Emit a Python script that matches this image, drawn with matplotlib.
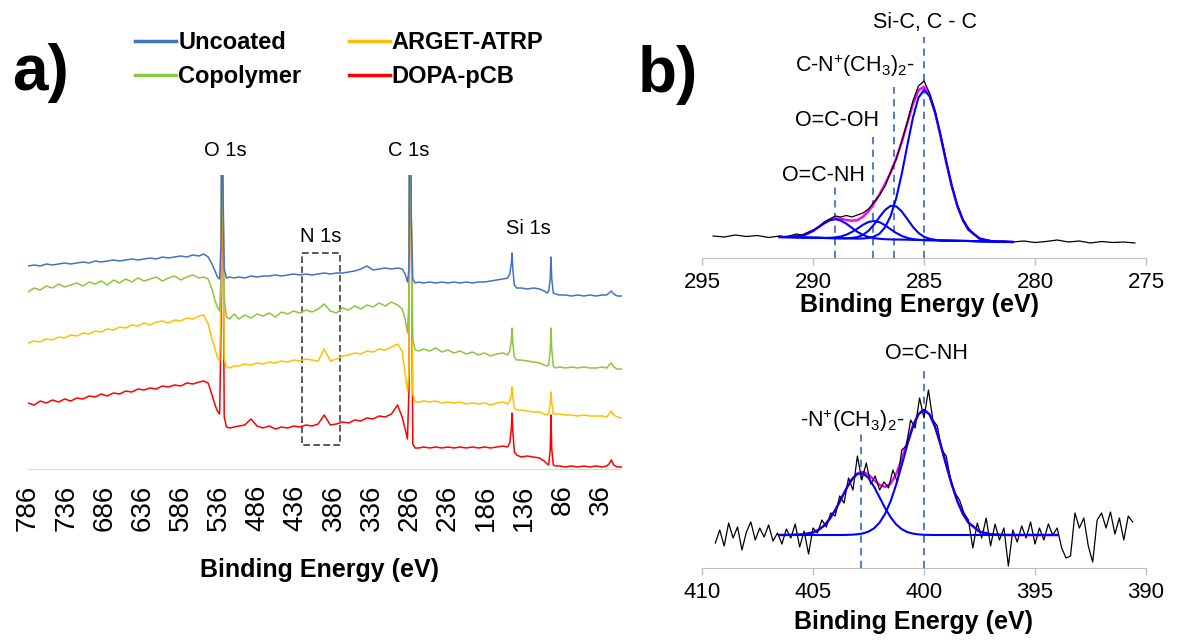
import numpy as np
import matplotlib
matplotlib.use("Agg")
import matplotlib.pyplot as plt
from matplotlib.patches import Rectangle

plt.rcParams['font.family'] = ['Liberation Sans', 'DejaVu Sans']
plt.rcParams['mathtext.fontset'] = 'custom'
plt.rcParams['mathtext.rm'] = 'Liberation Sans'
plt.rcParams['mathtext.it'] = 'Liberation Sans:italic'
plt.rcParams['mathtext.bf'] = 'Liberation Sans:bold'

# ---------------- a) survey spectra (intensity in arbitrary units) ----------------
survey_ev = [786, 778, 770, 762, 754, 746, 738, 730, 722, 714, 706, 698, 690, 682, 674,
             666, 658, 650, 642, 634, 626, 618, 610, 602, 594, 586, 578, 570, 562,
             556, 550, 545, 541, 538, 535, 533, 532, 531, 529, 526, 522, 516,
             510, 502, 494, 486, 478, 470, 462, 454, 446, 438, 430, 422, 414, 406,
             398, 390, 382, 374, 366, 358, 350, 342, 334, 326, 318, 310, 302,
             296, 292, 289, 287, 286, 285, 284, 282, 279, 274,
             268, 260, 252, 244, 236, 228, 220, 212, 204, 196, 188, 180, 172, 164,
             158, 155, 153, 152, 151, 149, 146,
             140, 132, 124, 116, 110,
             106, 104, 102, 101, 100, 98, 95,
             90, 82, 74, 66, 58, 50, 42, 34, 28,
             25, 22, 19,
             14, 8]

uncoated = [203, 204, 203, 205, 204, 205, 206, 205, 206, 207, 206, 208, 207, 208, 209,
            208, 209, 210, 209, 210, 211, 210, 212, 211, 212, 213, 212, 214, 213,
            215, 212, 205, 198, 192, 190, 230, 400, 300, 200, 191, 192, 191,
            192, 191, 193, 192, 193, 193, 194, 193, 194, 195, 194, 195, 194, 195,
            196, 195, 196, 196, 197, 198, 200, 203, 199, 200, 201, 200, 201,
            200, 195, 187, 200, 400, 400, 250, 190, 186, 187,
            186, 187, 186, 187, 186, 187, 186, 187, 186, 187, 187, 188, 189, 190,
            191, 195, 205, 216, 200, 184, 181,
            181, 180, 181, 180, 178,
            176, 178, 190, 212, 190, 176, 175,
            174, 174, 173, 174, 173, 174, 173, 174, 174,
            176, 178, 175,
            173, 173]

copolymer = [177, 181, 179, 183, 181, 185, 182, 184, 186, 183, 187, 185, 188, 184, 189,
             186, 190, 187, 191, 188, 190, 192, 188, 191, 193, 189, 192, 194, 191,
             192, 190, 180, 168, 162, 158, 200, 400, 300, 170, 152, 150, 155,
             150, 154, 151, 155, 153, 156, 152, 157, 155, 158, 156, 159, 157, 160,
             165, 158, 156, 161, 159, 163, 160, 164, 162, 166, 163, 167, 164,
             160, 150, 136, 170, 400, 400, 250, 130, 119, 118,
             120, 118, 121, 117, 119, 116, 118, 115, 117, 114, 116, 113, 115, 116,
             114, 118, 128, 141, 125, 112, 109,
             109, 108, 107, 106, 104,
             103, 104, 118, 141, 120, 103, 101,
             102, 101, 102, 101, 102, 101, 101, 102, 101,
             104, 106, 102,
             100, 100]

arget_atrp = [126, 128, 127, 130, 129, 132, 131, 134, 133, 136, 135, 138, 137, 140, 139,
              142, 141, 144, 143, 146, 144, 147, 148, 146, 149, 148, 151, 150, 153,
              154, 145, 130, 120, 112, 108, 180, 400, 300, 110, 102, 101, 103,
              103, 105, 104, 106, 105, 107, 106, 108, 107, 109, 108, 110, 109, 108,
              120, 108, 110, 113, 114, 116, 115, 118, 117, 120, 119, 122, 125,
              118, 95, 78, 100, 400, 400, 250, 75, 67, 67,
              68, 67, 68, 66, 67, 66, 67, 65, 66, 65, 66, 64, 66, 67,
              65, 68, 74, 82, 72, 61, 59,
              59, 58, 57, 57, 55,
              54, 56, 66, 77, 66, 55, 55,
              55, 54, 54, 53, 54, 53, 53, 53, 52,
              55, 58, 54,
              52, 51]

dopa_pcb = [66, 64, 68, 66, 69, 67, 70, 68, 71, 70, 73, 72, 75, 73, 76,
            75, 78, 77, 80, 79, 81, 80, 83, 82, 84, 83, 86, 85, 87,
            88, 86, 74, 64, 58, 55, 150, 400, 300, 52, 42, 41, 42,
            43, 44, 50, 43, 41, 43, 40, 42, 41, 43, 42, 44, 43, 45,
            54, 44, 45, 47, 46, 49, 48, 51, 50, 53, 52, 55, 64,
            52, 40, 30, 80, 400, 400, 250, 25, 21, 21,
            22, 21, 22, 21, 22, 21, 22, 21, 22, 21, 22, 21, 22, 23,
            22, 26, 40, 56, 38, 17, 14,
            12, 13, 12, 11, 8,
            5, 4, 20, 54, 20, 4, 3,
            3, 2, 3, 2, 3, 2, 3, 2, 3,
            5, 9, 4,
            2, 2]

survey_names = ['Uncoated', 'Copolymer', 'ARGET-ATRP', 'DOPA-pCB']
survey_colors = ['#4472C4', '#8DC63F', '#FFC000', '#FF0000']
survey_ticks = [786, 736, 686, 636, 586, 536, 486, 436, 386, 336, 286, 236, 186, 136, 86, 36]

peak_labels = ['O 1s', 'C 1s', 'N 1s', 'Si 1s']
peak_label_ev = [527, 287, 402.5, 131]
peak_label_h = [319, 319, 233, 241]
n1s_box = (378, 427, 24, 216)   # eV from, eV to, low, high

# ---------------- b) C 1s high resolution ----------------
c1s_raw_ev = [294.5, 294, 293.5, 293, 292.5, 292, 291.5,
              291.25, 291, 290.75, 290.5, 290.25, 290, 289.75, 289.5, 289.25, 289,
              288.75, 288.5, 288.25, 288, 287.75, 287.5, 287.25, 287, 286.75, 286.5,
              286.25, 286, 285.75, 285.5, 285.25, 285, 284.75, 284.5, 284.25, 284,
              283.75, 283.5, 283.25, 283, 282.75, 282.5, 282.25, 282, 281.75, 281.5,
              281, 280.5, 280, 279.5, 279, 278.5, 278, 277.5, 277, 276.5, 276, 275.5]
c1s_raw = [22, 21, 23, 21.5, 22.5, 20.5, 22,
           21, 22.5, 24, 23, 25.5, 28, 31, 36, 39, 42,
           41, 42.5, 41, 43, 45, 49, 56, 63, 72, 86,
           99, 117, 136, 157, 172, 177, 165, 147, 123, 97,
           73, 53, 39, 30, 24, 20, 18, 17.5, 16, 17,
           16, 17, 15.5, 16.5, 18, 16, 17, 15, 16.5, 15.5, 16, 15]

c1s_fit_ev = [291.5, 291, 290.5, 290.25, 290, 289.75, 289.5, 289.25, 289, 288.75,
              288.5, 288.25, 288, 287.75, 287.5, 287.25, 287, 286.75, 286.5, 286.25,
              286, 285.75, 285.5, 285.25, 285, 284.75, 284.5, 284.25, 284, 283.75,
              283.5, 283.25, 283, 282.5, 282, 281.5, 281]
c1s_amide = [21.0, 21.1, 22.4, 24.3, 27.1, 30.9, 34.7, 37.7, 38.8, 37.5,
             34.3, 30.2, 26.1, 23.1, 21.0, 19.8, 19.2, 18.8, 18.6, 18.5,
             18.4, 18.3, 18.1, 18.0, 17.9, 17.8, 17.7, 17.5, 17.4, 17.3,
             17.2, 17.1, 17.0, 16.7, 16.5, 16.2, 16.0]
c1s_acid = [21.0, 20.8, 20.5, 20.4, 20.3, 20.2, 20.1, 20.2, 20.6, 21.5,
            23.3, 26.0, 29.4, 33.2, 36.0, 37.0, 35.8, 32.8, 28.7, 25.0,
            22.1, 20.1, 18.9, 18.3, 17.9, 17.8, 17.7, 17.5, 17.4, 17.3,
            17.2, 17.1, 17.0, 16.7, 16.5, 16.2, 16.0]
c1s_ammonium = [21.0, 20.8, 20.5, 20.4, 20.3, 20.2, 20.0, 19.9, 19.8, 19.7,
                19.7, 20.1, 20.9, 23.1, 27.2, 33.5, 41.1, 48.1, 52.2, 51.6,
                46.5, 38.9, 31.1, 25.1, 21.2, 19.2, 18.2, 17.5, 17.4, 17.3,
                17.2, 17.1, 17.0, 16.7, 16.5, 16.2, 16.0]
c1s_cc = [21.0, 20.8, 20.5, 20.4, 20.3, 20.2, 20.0, 19.9, 19.8, 19.7,
          19.6, 19.5, 19.4, 19.5, 20.0, 21.4, 24.4, 30.8, 42.1, 60.0,
          84.3, 112.8, 140.1, 160.4, 167.9, 161.8, 145.3, 121.8, 96.0, 72.0,
          52.3, 37.9, 28.4, 19.4, 16.9, 16.2, 16.0]
c1s_envelope = [21.0, 21.1, 22.4, 24.3, 27.1, 30.9, 34.8, 38.0, 39.6, 39.3,
                38.1, 37.3, 37.9, 41.3, 46.9, 54.7, 63.8, 74.3, 85.8, 99.6,
                116.1, 135.2, 153.9, 167.8, 171.2, 163.2, 145.8, 122.0, 96.0, 72.0,
                52.3, 37.9, 28.4, 19.4, 16.9, 16.2, 16.0]

c1s_line_ev = [289.0, 287.3, 286.35, 285.0]
c1s_line_top = [73, 125, 171, 221]
c1s_labels = ['O=C-NH', 'O=C-OH', r'C-N$^\mathregular{+}$(CH$_\mathregular{3}$)$_\mathregular{2}$-', 'Si-C, C - C']
c1s_label_ev = [289.53, 288.9, 288.1, 284.95]
c1s_label_h = [77, 132, 186, 230]
c1s_ticks = [295, 290, 285, 280, 275]

# ---------------- b) N 1s high resolution ----------------
n1s_raw_ev = [409.4, 409.2, 409.0, 408.8, 408.6, 408.4, 408.2, 408.0, 407.8, 407.6,
              407.4, 407.2, 407.0, 406.8, 406.6, 406.4, 406.2, 406.0, 405.8, 405.6,
              405.4, 405.2, 405.0, 404.8, 404.6, 404.4, 404.2, 404.0, 403.8, 403.6,
              403.4, 403.2, 403.0, 402.8, 402.6, 402.4, 402.2, 402.0, 401.8, 401.6,
              401.4, 401.2, 401.0, 400.8, 400.6, 400.4, 400.2, 400.0, 399.8, 399.6,
              399.4, 399.2, 399.0, 398.8, 398.6, 398.4, 398.2, 398.0, 397.8, 397.6,
              397.4, 397.2, 397.0, 396.8, 396.6, 396.4, 396.2, 396.0, 395.8, 395.6,
              395.4, 395.2, 395.0, 394.8, 394.6, 394.4, 394.2, 394.0, 393.8, 393.6,
              393.4, 393.2, 393.0, 392.8, 392.6, 392.4, 392.2, 392.0, 391.8, 391.6,
              391.4, 391.2, 391.0, 390.8, 390.6]
n1s_raw = [25, 38, 22, 45, 30, 41, 18, 36, 46, 28,
           40, 31, 43, 27, 35, 24, 39, 30, 44, 21,
           37, 14, 40, 35, 48, 41, 55, 52, 72, 65,
           90, 78, 112, 88, 105, 84, 92, 78, 86, 80,
           98, 86, 118, 122, 148, 140, 170, 150, 178, 148,
           142, 118, 112, 88, 75, 68, 55, 48, 20, 45,
           30, 50, 22, 44, 28, 40, 2, 38, 26, 42,
           30, 46, 24, 40, 28, 44, 33, 40, 20, 10,
           12, 55, 40, 50, 22, 6, 48, 55, 40, 56,
           34, 50, 28, 52, 46]

n1s_fit_ev = [406.5, 406, 405.5, 405, 404.75, 404.5, 404.25, 404, 403.75, 403.5,
              403.25, 403, 402.75, 402.5, 402.25, 402, 401.75, 401.5, 401.25, 401,
              400.75, 400.5, 400.25, 400, 399.75, 399.5, 399.25, 399, 398.75, 398.5,
              398.25, 398, 397.5, 397, 396.5, 396, 395.5, 395, 394.5, 394]
n1s_ammonium = [33.0, 33.1, 33.5, 35.5, 38.1, 42.4, 49.0, 57.8, 68.4, 79.3,
                88.5, 94.0, 94.6, 90.0, 81.3, 70.6, 59.8, 50.6, 43.5, 38.8,
                35.9, 34.4, 33.6, 33.2, 33.1, 33.0, 33.0, 33.0, 33.0, 33.0,
                33.0, 33.0, 33.0, 33.0, 33.0, 33.0, 33.0, 33.0, 33.0, 33.0]
n1s_amide = [33.0, 33.0, 33.0, 33.0, 33.0, 33.0, 33.0, 33.0, 33.0, 33.1,
             33.3, 33.7, 34.6, 36.4, 39.7, 45.4, 54.3, 67.0, 83.7, 103.1,
             123.3, 141.2, 153.6, 158.0, 153.6, 141.2, 123.3, 103.1, 83.7, 67.0,
             54.3, 45.4, 36.4, 33.7, 33.1, 33.0, 33.0, 33.0, 33.0, 33.0]
n1s_envelope = [33.0, 33.1, 33.5, 35.5, 38.1, 42.4, 49.0, 57.8, 68.4, 79.4,
                88.8, 94.7, 96.2, 93.4, 88.0, 83.0, 81.1, 84.6, 94.2, 108.9,
                126.2, 142.6, 154.2, 158.2, 153.7, 141.2, 123.3, 103.1, 83.7, 67.0,
                54.3, 45.4, 36.4, 33.7, 33.1, 33.0, 33.0, 33.0, 33.0, 33.0]

n1s_line_ev = [402.85, 400.0]
n1s_line_top = [138, 200]
n1s_labels = [r'-N$^\mathregular{+}$(CH$_\mathregular{3}$)$_\mathregular{2}$-', 'O=C-NH']
n1s_label_ev = [403.25, 399.9]
n1s_label_h = [141, 209]
n1s_ticks = [410, 405, 400, 395, 390]

# ---------------- figure ----------------
W, H = 1178, 641
fig = plt.figure(figsize=(W / 100, H / 100), dpi=100)


def px_rect(x0, y_top, x1, y_bot):
    return [x0 / W, 1 - y_bot / H, (x1 - x0) / W, (y_bot - y_top) / H]


# panel a
axA = fig.add_axes(px_rect(28, 175, 622, 469))
series = [uncoated, copolymer, arget_atrp, dopa_pcb]
lines = {}
for name, vals, col in reversed(list(zip(survey_names, series, survey_colors))):
    ln, = axA.plot(survey_ev, vals, color=col, lw=1.1)
    lines[name] = ln
axA.set_xlim(786, 8)
axA.set_ylim(0, 294)
axA.set_xticks(survey_ticks)
axA.set_xticklabels([str(t) for t in survey_ticks], rotation=90)
axA.tick_params(axis='x', length=0, pad=11, labelsize=20)
axA.tick_params(axis='y', left=False, labelleft=False)
for s in ['top', 'right', 'left']:
    axA.spines[s].set_visible(False)
axA.spines['bottom'].set_color('#d9d9d9')
axA.add_patch(Rectangle((n1s_box[0], n1s_box[2]), n1s_box[1] - n1s_box[0],
                        n1s_box[3] - n1s_box[2], fill=False, ec='#404040',
                        lw=1.2, ls=(0, (4, 2))))
for txt, ev, h in zip(peak_labels, peak_label_ev, peak_label_h):
    axA.text(ev, h, txt, ha='center', va='center', fontsize=14.5, clip_on=False)

leg = fig.legend([lines[n] for n in survey_names], survey_names, loc='upper left',
                 bbox_to_anchor=(135 / W, 1 - 31 / H), ncol=2, frameon=False,
                 prop={'weight': 'bold', 'size': 17}, handlelength=1.75,
                 handletextpad=0.08, columnspacing=2.0, labelspacing=0.48,
                 borderpad=0, borderaxespad=0)
for h in leg.legend_handles:
    h.set_linewidth(2.5)

fig.text(320 / W, 1 - 570 / H, 'Binding Energy (eV)', ha='center', va='center',
         fontsize=18, fontweight='bold')
fig.text(40 / W, 1 - 73 / H, 'a)', ha='center', va='center', fontsize=46, fontweight='bold')
fig.text(668 / W, 1 - 75 / H, 'b)', ha='center', va='center', fontsize=46, fontweight='bold')


def style_hr(ax, ticks):
    for s in ['top', 'right', 'left']:
        ax.spines[s].set_visible(False)
    ax.spines['bottom'].set_color('#bfbfbf')
    ax.set_xticks(ticks)
    ax.tick_params(axis='x', direction='out', length=5, width=1, color='#bfbfbf',
                   labelsize=16, pad=5)
    ax.tick_params(axis='y', left=False, labelleft=False)


# panel b top: C 1s
axB = fig.add_axes(px_rect(702, 10, 1146, 258))
axB.vlines(c1s_line_ev, 0, c1s_line_top, colors='#4472C4', linestyles=(0, (4, 3)), lw=1.3, zorder=1)
axB.plot(c1s_fit_ev, c1s_envelope, color='#FF00FF', lw=1.8, zorder=2)
axB.plot(c1s_raw_ev, c1s_raw, color='black', lw=0.9, zorder=3)
for comp in [c1s_amide, c1s_acid, c1s_ammonium, c1s_cc]:
    axB.plot(c1s_fit_ev, comp, color='#0000FF', lw=1.5, zorder=4)
axB.set_xlim(295, 275)
axB.set_ylim(0, 248)
style_hr(axB, c1s_ticks)
for txt, ev, h in zip(c1s_labels, c1s_label_ev, c1s_label_h):
    axB.text(ev, h, txt, ha='center', va='baseline', fontsize=15.5, clip_on=False)
fig.text(920 / W, 1 - 305 / H, 'Binding Energy (eV)', ha='center', va='center',
         fontsize=18, fontweight='bold')

# panel b bottom: N 1s
axC = fig.add_axes(px_rect(702, 330, 1146, 568))
axC.vlines(n1s_line_ev, 0, n1s_line_top, colors='#4472C4', linestyles=(0, (4, 3)), lw=1.3, zorder=1)
axC.plot(n1s_fit_ev, n1s_envelope, color='#FF00FF', lw=1.8, zorder=2)
axC.plot(n1s_raw_ev, n1s_raw, color='black', lw=0.9, zorder=3)
for comp in [n1s_ammonium, n1s_amide]:
    axC.plot(n1s_fit_ev, comp, color='#0000FF', lw=1.5, zorder=4)
axC.set_xlim(410, 390)
axC.set_ylim(0, 238)
style_hr(axC, n1s_ticks)
for txt, ev, h in zip(n1s_labels, n1s_label_ev, n1s_label_h):
    axC.text(ev, h, txt, ha='center', va='baseline', fontsize=15.5, clip_on=False)
fig.text(913 / W, 1 - 622 / H, 'Binding Energy (eV)', ha='center', va='center',
         fontsize=18, fontweight='bold')

fig.savefig('out.png', dpi=100)
